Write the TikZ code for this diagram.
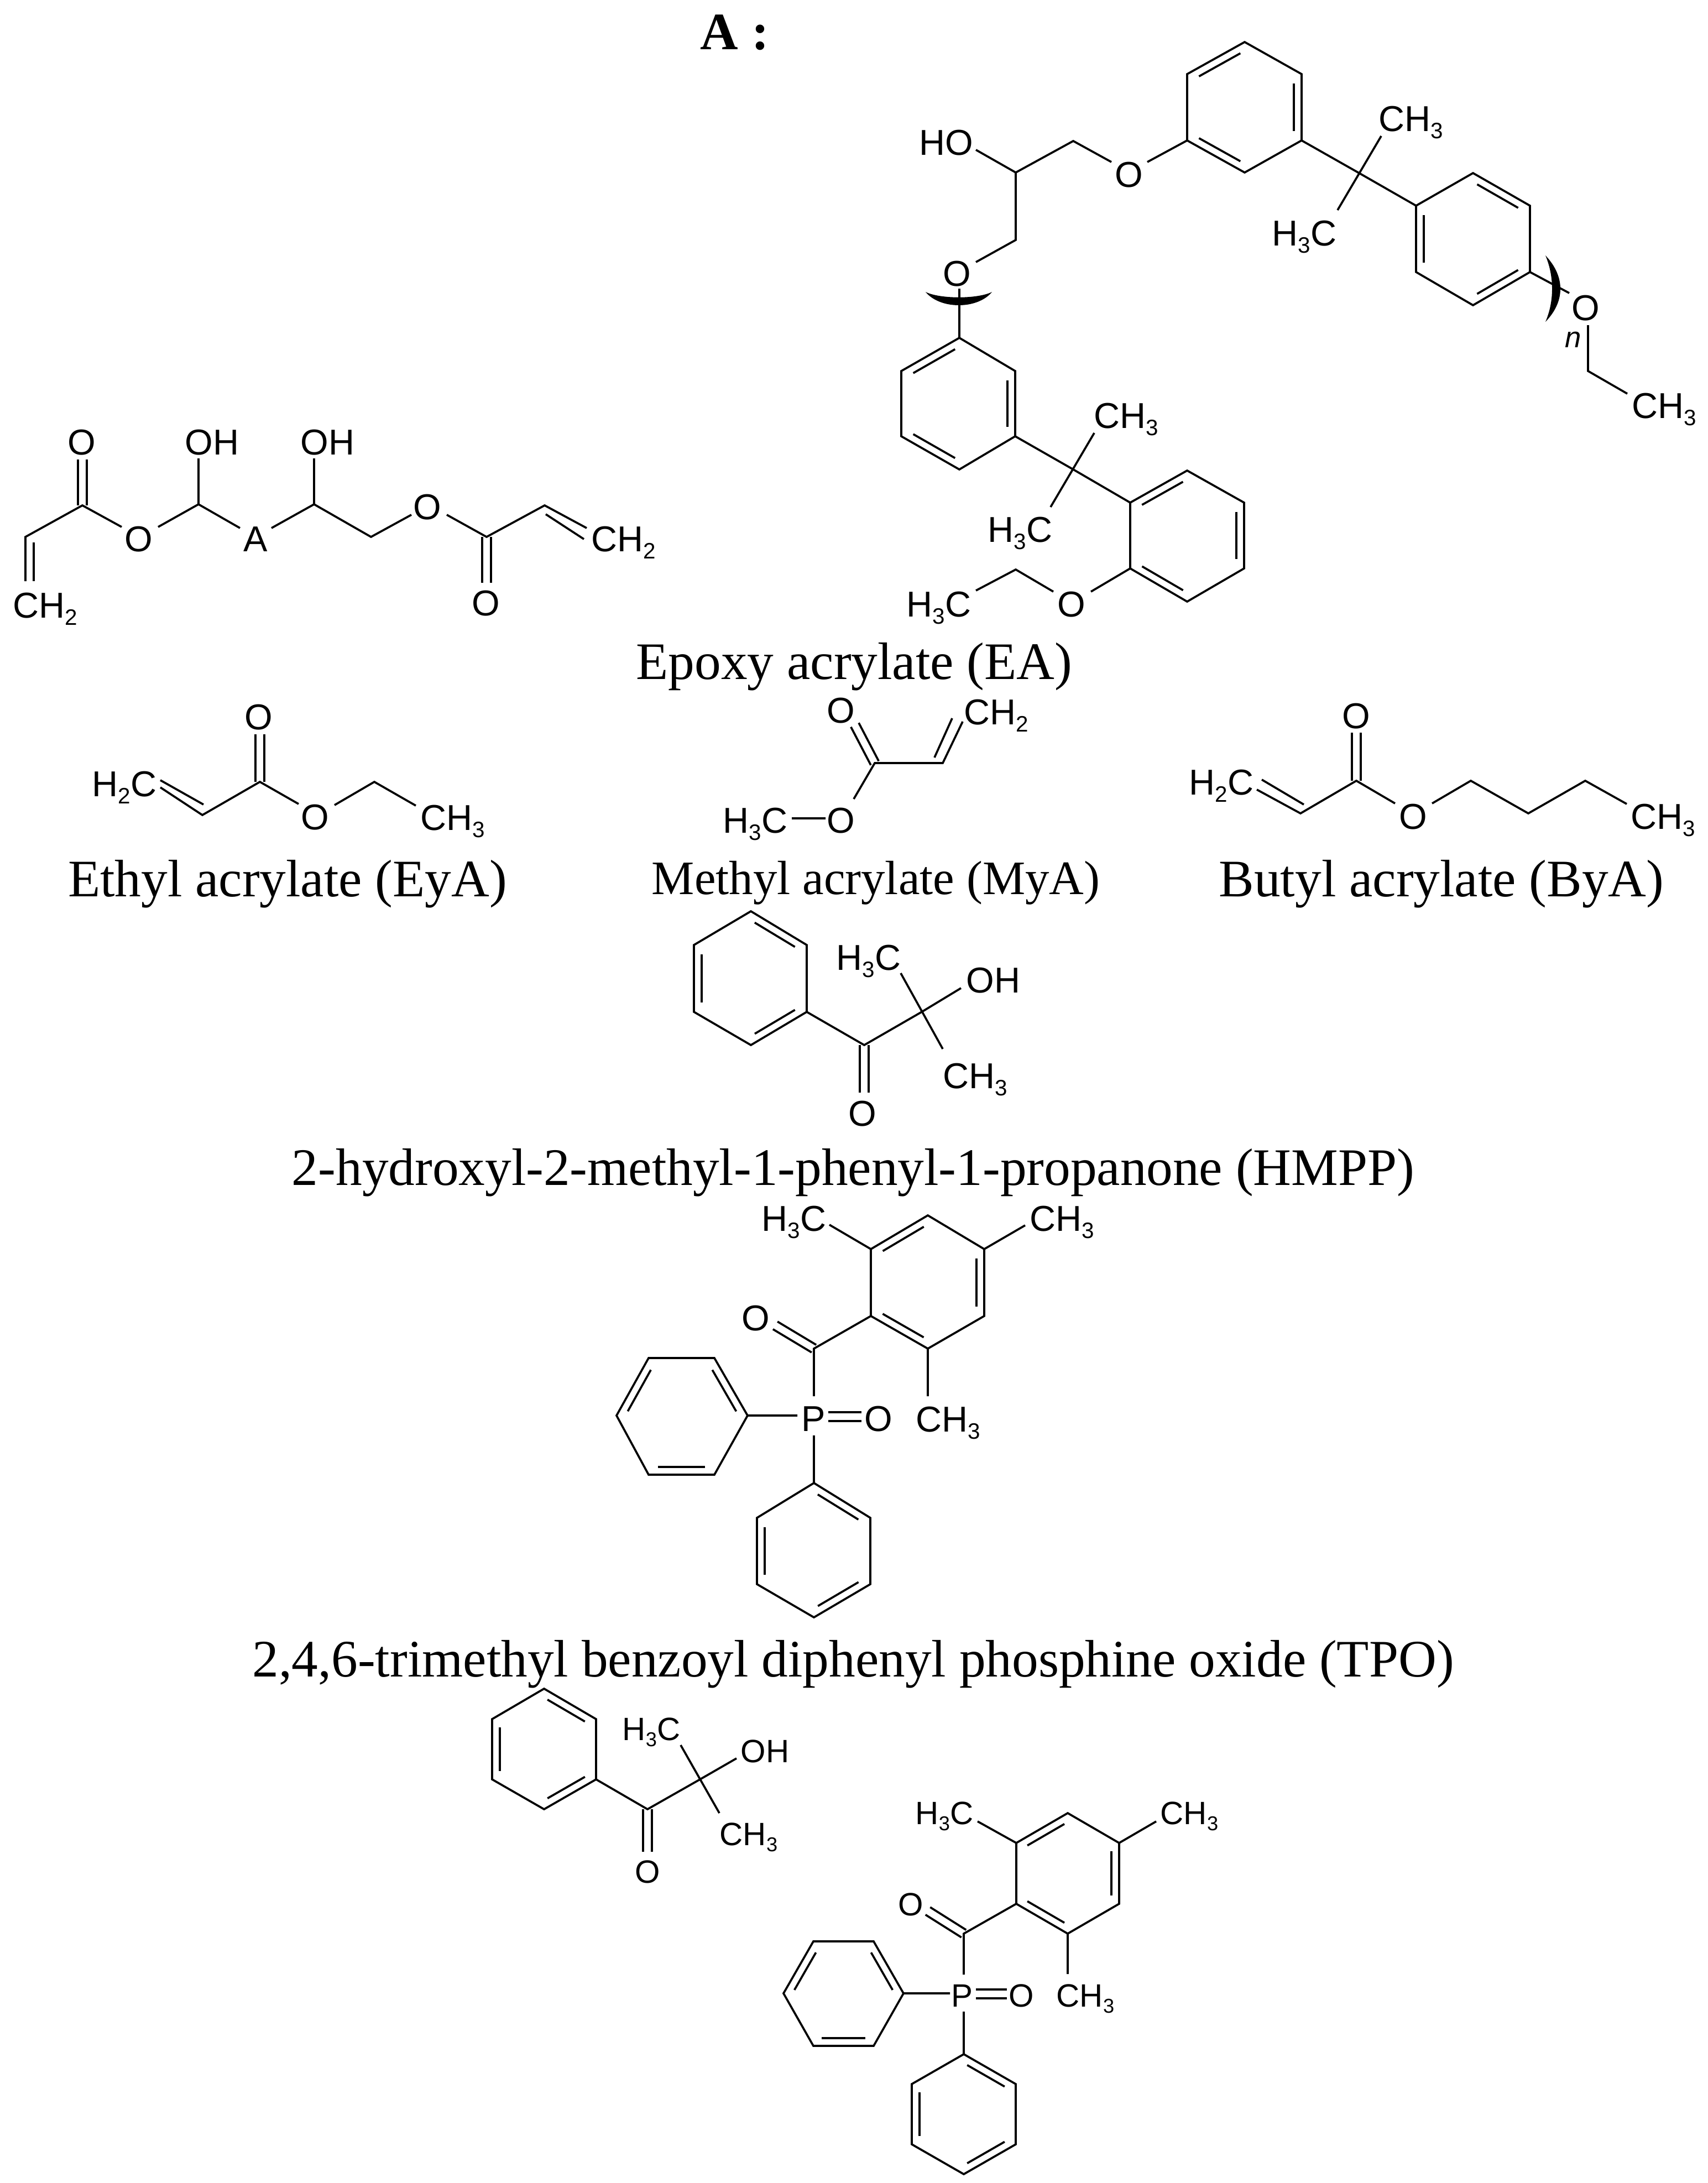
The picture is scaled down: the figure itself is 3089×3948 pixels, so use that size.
\documentclass[tikz,border=0pt]{standalone}
\usepackage{fontspec}
\usepackage{graphicx}
\setmainfont{Liberation Serif}
\newfontfamily\chemfont{Liberation Sans}
\usetikzlibrary{calc}
\newcommand{\sbs}[1]{\raisebox{-.2em}{\scalebox{.62}{#1}}}
\newcommand{\CHt}{CH\sbs{3}}
\newcommand{\HtC}{H\sbs{3}C}
\newcommand{\CHb}{CH\sbs{2}}
\newcommand{\HbC}{H\sbs{2}C}
\newcommand{\lft}[4]{\node[lab,anchor=base west] (#1) at (#2,#3) {#4};}
\newcommand{\ctr}[4]{\node[lab,anchor=base] (#1) at (#2,#3) {#4};}
\newcommand{\vx}[3]{\coordinate (#1) at (#2,#3);}
% six vertices of a ring, clockwise on the page
\newcommand{\ring}[1]{\draw[bond] (#11)--(#12)--(#13)--(#14)--(#15)--(#16)--cycle;}
% inner line of a double bond, on the right of a->b
\newcommand{\inr}[2]{\draw[bond] ($(#1)!.14!(#2)!.14cm!-90:(#2)$) -- ($(#2)!.14!(#1)!.14cm!90:(#1)$);}
% two lines either side of the axis a->b
\newcommand{\dc}[2]{\draw[bond] ($(#1)!.08cm!90:(#2)$) -- ($(#2)!.08cm!-90:(#1)$) ($(#1)!.08cm!-90:(#2)$) -- ($(#2)!.08cm!90:(#1)$);}
\tikzset{
  bond/.style={line width=1.05pt,line cap=butt,line join=miter},
  lab/.style={font=\chemfont\fontsize{18.5}{20}\selectfont,inner sep=0pt,yshift=-.23cm},
  captxt/.style={font=\fontsize{27.1}{30}\selectfont,inner sep=0pt,anchor=base},
  crescent/.style={fill=black,draw=none}
}
\begin{document}
\begin{tikzpicture}[x=.01cm,y=-.01cm]
\useasboundingbox (0,0) rectangle (3089,3948);
\fill[white] (0,0) rectangle (3089,3948);

\node[font=\fontsize{27}{30}\selectfont\bfseries,inner sep=0pt,anchor=base west] (title) at (1266,90) {A :};

% ---------- Epoxy acrylate oligomer ----------
\vx{ea1}{2251}{76}\vx{ea2}{2354}{134}\vx{ea3}{2354}{254}\vx{ea4}{2251}{312}\vx{ea5}{2147}{254}\vx{ea6}{2147}{134}
\ring{ea}\inr{ea6}{ea1}\inr{ea2}{ea3}\inr{ea4}{ea5}
\vx{eb1}{1735}{611}\vx{eb2}{1836}{671}\vx{eb3}{1836}{789}\vx{eb4}{1735}{849}\vx{eb5}{1630}{789}\vx{eb6}{1630}{671}
\ring{eb}\inr{eb6}{eb1}\inr{eb2}{eb3}\inr{eb4}{eb5}
\vx{ec1}{2147}{851}\vx{ec2}{2250}{909}\vx{ec3}{2250}{1028}\vx{ec4}{2147}{1088}\vx{ec5}{2044}{1028}\vx{ec6}{2044}{909}
\ring{ec}\inr{ec6}{ec1}\inr{ec2}{ec3}\inr{ec4}{ec5}
\vx{ed1}{2664}{313}\vx{ed2}{2767}{372}\vx{ed3}{2767}{492}\vx{ed4}{2664}{552}\vx{ed5}{2561}{492}\vx{ed6}{2561}{372}
\ring{ed}\inr{ed1}{ed2}\inr{ed3}{ed4}\inr{ed5}{ed6}
\ctr{eO1}{2042}{315}{O}
\vx{e1}{2075}{293}\vx{e2}{2010}{293}\vx{e3}{1941}{255}\vx{e4}{1837}{312}\vx{e5}{1765}{271}\vx{e6}{1837}{434}\vx{e7}{1765}{474}
\draw[bond] (ea5)--(e1) (e2)--(e3)--(e4)--(e5) (e4)--(e6)--(e7);
\lft{eHO}{1662}{257}{HO}
\ctr{eO2}{1731}{494}{O}
\vx{e8}{1735}{522}
\draw[bond] (e8)--(eb1);
\fill[crescent] (1674,528) .. controls (1700,541) and (1768,541) .. (1794,528) .. controls (1768,560) and (1700,560) .. (1674,528) -- cycle;
\vx{e9}{1941}{849}\vx{e10}{1979}{783}\vx{e11}{1900}{917}
\draw[bond] (eb3)--(e9)--(ec6) (e10)--(e11);
\lft{eCa}{1978}{751}{\CHt}
\lft{eHa}{1786}{957}{\HtC}
\ctr{eO3}{1938}{1092}{O}
\vx{e12}{1973}{1070}\vx{e13}{1905}{1070}\vx{e14}{1837}{1030}\vx{e15}{1765}{1068}
\draw[bond] (ec5)--(e12) (e13)--(e14)--(e15);
\lft{eHb}{1639}{1092}{\HtC}
\vx{e16}{2458}{313}\vx{e17}{2498}{246}\vx{e18}{2419}{380}
\draw[bond] (ea3)--(e16)--(ed6) (e17)--(e18);
\lft{eCb}{2493}{214}{\CHt}
\lft{eHc}{2300}{421}{\HtC}
\vx{e19}{2838}{530}\vx{e20}{2872}{588}\vx{e21}{2872}{671}\vx{e22}{2943}{712}
\draw[bond] (ed3)--(e19) (e20)--(e21)--(e22);
\ctr{eO4}{2868}{556}{O}
\fill[crescent] (2795,462) .. controls (2811,500) and (2811,545) .. (2795,582) .. controls (2831,545) and (2831,500) .. (2795,462) -- cycle;
\node[lab,anchor=base,font=\chemfont\itshape\fontsize{15}{16}\selectfont,yshift=.05cm] (en) at (2845,610) {n};
\lft{eCc}{2951}{733}{\CHt}
\node[captxt] (capE) at (1545,1228) {Epoxy acrylate (EA)};

% ---------- Diacrylate with A ----------
\vx{g1}{46}{971}\vx{g2}{149}{914}\vx{g3}{220}{953}\vx{g4}{286}{953}\vx{g5}{359}{912}\vx{g6}{359}{829}\vx{g7}{434}{955}\vx{g8}{491}{955}\vx{g9}{568}{912}\vx{g10}{568}{829}\vx{g11}{671}{971}\vx{g12}{744}{931}\vx{g13}{808}{931}\vx{g14}{880}{971}\vx{g15}{985}{914}\vx{g16}{1061}{955}\vx{g17}{46}{1051}\vx{g18}{149}{831}\vx{g19}{880}{1054}
\draw[bond] (g17)--(g1)--(g2)--(g3) (g4)--(g5)--(g6) (g5)--(g7) (g8)--(g9)--(g10) (g9)--(g11)--(g12) (g13)--(g14)--(g15)--(g16);
\draw[bond] (61,981)--(61,1051);
\draw[bond] (987,930)--(1056,975);
\dc{g2}{g18}\dc{g14}{g19}
\lft{gC1}{23}{1094}{\CHb}
\ctr{gO1}{148}{799}{O}
\ctr{gO2}{251}{974}{O}
\lft{gOH1}{334}{799}{OH}
\ctr{gA}{462}{974}{A}
\lft{gOH2}{543}{799}{OH}
\ctr{gO3}{773}{916}{O}
\ctr{gO4}{879}{1090}{O}
\lft{gC2}{1069}{974}{\CHb}

% ---------- Ethyl acrylate ----------
\vx{y1}{290}{1424}\vx{y2}{366}{1474}\vx{y3}{470}{1414}\vx{y4}{470}{1328}\vx{y5}{540}{1454}\vx{y6}{605}{1456}\vx{y7}{677}{1414}\vx{y8}{752}{1457}
\draw[bond] (y1)--(y2)--(y3)--(y5) (y6)--(y7)--(y8);
\draw[bond] (290,1411)--(368,1455);
\dc{y3}{y4}
\lft{yH}{166}{1417}{\HbC}
\ctr{yO1}{468}{1296}{O}
\ctr{yO2}{570}{1477}{O}
\lft{yC}{760}{1478}{\CHt}
\node[captxt] (capY) at (520,1621) {Ethyl acrylate (EyA)};

% ---------- Methyl acrylate ----------
\vx{m1}{1582}{1380}\vx{m2}{1705}{1380}\vx{m3}{1741}{1305}\vx{m4}{1544}{1445}\vx{m5}{1432}{1480}\vx{m6}{1493}{1480}\vx{m7}{1546}{1311}
\draw[bond] (m3)--(m2)--(m1)--(m4) (m5)--(m6);
\draw[bond] (1690,1370)--(1722,1299);
\dc{m1}{m7}
\ctr{mO1}{1521}{1284}{O}
\lft{mC}{1743}{1287}{\CHb}
\lft{mH}{1307}{1483}{\HtC}
\ctr{mO2}{1521}{1483}{O}
\node[captxt,font=\fontsize{24.7}{27}\selectfont] (capM) at (1584,1617) {Methyl acrylate (MyA)};

% ---------- Butyl acrylate ----------
\vx{b1}{2273}{1428}\vx{b2}{2352}{1471}\vx{b3}{2453}{1412}\vx{b4}{2453}{1325}\vx{b5}{2523}{1453}\vx{b6}{2590}{1453}\vx{b7}{2660}{1412}\vx{b8}{2764}{1471}\vx{b9}{2867}{1412}\vx{b10}{2942}{1454}
\draw[bond] (b1)--(b2)--(b3)--(b5) (b6)--(b7)--(b8)--(b9)--(b10);
\draw[bond] (2282,1410)--(2358,1455);
\dc{b3}{b4}
\lft{bH}{2150}{1414}{\HbC}
\ctr{bO1}{2453}{1294}{O}
\ctr{bO2}{2556}{1476}{O}
\lft{bC}{2949}{1476}{\CHt}
\node[captxt] (capB) at (2607,1621) {Butyl acrylate (ByA)};

% ---------- HMPP ----------
\vx{h1}{1358}{1648}\vx{h2}{1459}{1709}\vx{h3}{1459}{1830}\vx{h4}{1358}{1890}\vx{h5}{1255}{1830}\vx{h6}{1255}{1709}
\ring{h}\inr{h1}{h2}\inr{h3}{h4}\inr{h5}{h6}
\vx{ha}{1563}{1890}\vx{hb}{1667}{1830}\vx{hc}{1738}{1787}\vx{hd}{1629}{1760}\vx{he}{1705}{1897}\vx{hf}{1563}{1976}
\draw[bond] (h3)--(ha)--(hb)--(hc) (hd)--(he);
\dc{ha}{hf}
\lft{hOH}{1747}{1772}{OH}
\lft{hH}{1512}{1731}{\HtC}
\lft{hC}{1705}{1945}{\CHt}
\ctr{hO}{1560}{2013}{O}
\node[captxt] (capH) at (1543,2143) {2-hydroxyl-2-methyl-1-phenyl-1-propanone (HMPP)};

% ---------- TPO ----------
\vx{t1}{1678}{2198}\vx{t2}{1780}{2259}\vx{t3}{1780}{2380}\vx{t4}{1678}{2439}\vx{t5}{1575}{2380}\vx{t6}{1575}{2259}
\ring{t}\inr{t6}{t1}\inr{t2}{t3}\inr{t4}{t5}
\vx{tl1}{1292}{2456}\vx{tl2}{1352}{2560}\vx{tl3}{1292}{2667}\vx{tl4}{1173}{2667}\vx{tl5}{1115}{2560}\vx{tl6}{1173}{2456}
\ring{tl}\inr{tl1}{tl2}\inr{tl3}{tl4}\inr{tl5}{tl6}
\vx{tb1}{1472}{2682}\vx{tb2}{1574}{2745}\vx{tb3}{1574}{2865}\vx{tb4}{1472}{2925}\vx{tb5}{1369}{2865}\vx{tb6}{1369}{2745}
\ring{tb}\inr{tb1}{tb2}\inr{tb3}{tb4}\inr{tb5}{tb6}
\vx{ta}{1500}{2215}\vx{tc}{1854}{2216}\vx{td}{1678}{2525}\vx{te}{1472}{2439}\vx{tf}{1472}{2525}\vx{tg}{1442}{2560}\vx{th}{1472}{2596}\vx{ti}{1402}{2397}\vx{tj}{1498}{2562}\vx{tk}{1558}{2562}
\draw[bond] (t6)--(ta) (t2)--(tc) (t4)--(td) (t5)--(te)--(tf) (tg)--(tl2) (th)--(tb1);
\dc{te}{ti}\dc{tj}{tk}
\lft{tH}{1377}{2203}{\HtC}
\lft{tC1}{1862}{2203}{\CHt}
\lft{tC2}{1656}{2566}{\CHt}
\ctr{tO1}{1367}{2383}{O}
\ctr{tP}{1471}{2565}{P}
\ctr{tO2}{1589}{2565}{O}
\node[captxt] (capT) at (1543,3032) {2,4,6-trimethyl benzoyl diphenyl phosphine oxide (TPO)};

\begin{scope}[lab/.style={font=\chemfont\fontsize{16.6}{18}\selectfont,inner sep=0pt,yshift=-.21cm}]
% ---------- HMPP, small ----------
\vx{s1}{984}{3054}\vx{s2}{1078}{3109}\vx{s3}{1078}{3218}\vx{s4}{984}{3272}\vx{s5}{890}{3218}\vx{s6}{890}{3109}
\ring{s}\inr{s1}{s2}\inr{s3}{s4}\inr{s5}{s6}
\vx{sa}{1171}{3272}\vx{sb}{1266}{3218}\vx{sc}{1332}{3180}\vx{sd}{1231}{3156}\vx{se}{1301}{3279}\vx{sf}{1171}{3349}
\draw[bond] (s3)--(sa)--(sb)--(sc) (sd)--(se);
\dc{sa}{sf}
\lft{sOH}{1339}{3166}{OH}
\lft{sH}{1125}{3126}{\HtC}
\lft{sC}{1301}{3316}{\CHt}
\ctr{sO}{1171}{3384}{O}

% ---------- TPO, small ----------
\vx{u1}{1931}{3279}\vx{u2}{2024}{3333}\vx{u3}{2024}{3443}\vx{u4}{1931}{3497}\vx{u5}{1838}{3443}\vx{u6}{1838}{3333}
\ring{u}\inr{u6}{u1}\inr{u2}{u3}\inr{u4}{u5}
\vx{ul1}{1580}{3511}\vx{ul2}{1634}{3605}\vx{ul3}{1580}{3700}\vx{ul4}{1471}{3700}\vx{ul5}{1417}{3605}\vx{ul6}{1471}{3511}
\ring{ul}\inr{ul1}{ul2}\inr{ul3}{ul4}\inr{ul5}{ul6}
\vx{ub1}{1743}{3715}\vx{ub2}{1837}{3769}\vx{ub3}{1837}{3878}\vx{ub4}{1743}{3932}\vx{ub5}{1649}{3878}\vx{ub6}{1649}{3769}
\ring{ub}\inr{ub1}{ub2}\inr{ub3}{ub4}\inr{ub5}{ub6}
\vx{ua}{1768}{3294}\vx{uc}{2091}{3294}\vx{ud}{1931}{3570}\vx{ue}{1743}{3497}\vx{uf}{1743}{3571}\vx{ug}{1718}{3605}\vx{uh}{1743}{3638}\vx{ui}{1678}{3456}\vx{uj}{1765}{3606}\vx{uk}{1821}{3606}
\draw[bond] (u6)--(ua) (u2)--(uc) (u4)--(ud) (u5)--(ue)--(uf) (ug)--(ul2) (uh)--(ub1);
\dc{ue}{ui}\dc{uj}{uk}
\lft{uH}{1655}{3278}{\HtC}
\lft{uC1}{2098}{3278}{\CHt}
\lft{uC2}{1910}{3608}{\CHt}
\ctr{uO1}{1647}{3443}{O}
\ctr{uP}{1740}{3608}{P}
\ctr{uO2}{1847}{3608}{O}
\end{scope}
\end{tikzpicture}
\end{document}
